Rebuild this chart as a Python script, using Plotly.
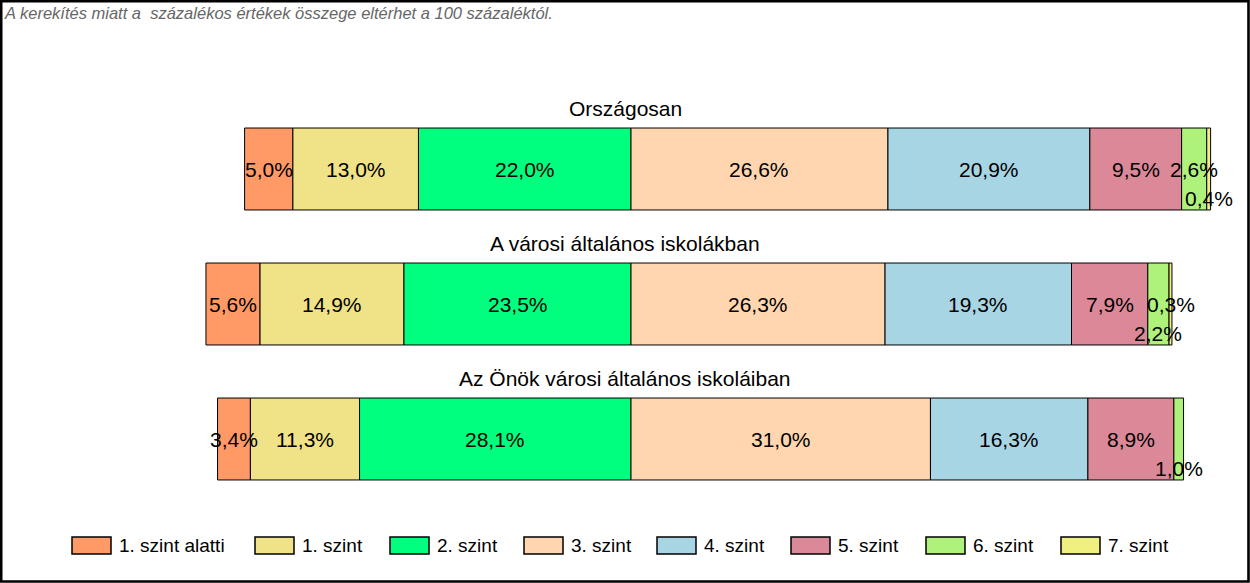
import plotly.graph_objects as go

# ---- data ----
groups = ["Országosan", "A városi általános iskolákban", "Az Önök városi általános iskoláiban"]
levels = ["1. szint alatti", "1. szint", "2. szint", "3. szint", "4. szint", "5. szint", "6. szint", "7. szint"]
orszagosan = [5.0, 13.0, 22.0, 26.6, 20.9, 9.5, 2.6, 0.4]
varosi = [5.6, 14.9, 23.5, 26.3, 19.3, 7.9, 2.2, 0.3]
onok = [3.4, 11.3, 28.1, 31.0, 16.3, 8.9, 1.0, 0.0]
note = "A kerekítés miatt a\u00a0 százalékos értékek összege eltérhet a 100 százaléktól."

# ---- style ----
colors = ["#FF9966", "#F0E286", "#00FF7F", "#FFD6B0", "#A8D5E4", "#DB8899", "#AEF27B", "#F0F080"]
# which labels are shifted below the bar centre (row, level)
low_labels = {(0, 7), (1, 6), (2, 6)}
legend_x_px = [72, 255, 390, 524, 657, 791, 926, 1061]
W, H = 1250, 583
FONT = "Liberation Sans, Arial, sans-serif"

rows = [orszagosan, varosi, onok]
# bars aligned at the boundary between "2. szint" and "3. szint"
starts = []
for vals in rows:
    s = -(vals[0] + vals[1] + vals[2])
    st = []
    for v in vals:
        st.append(s)
        s += v
    starts.append(st)

fig = go.Figure()
for j, lev in enumerate(levels):
    xs, bases, ys = [], [], []
    for i, vals in enumerate(rows):
        if vals[j] > 0:
            xs.append(vals[j])
            bases.append(starts[i][j])
            ys.append(i)
    fig.add_trace(go.Bar(
        x=xs, base=bases, y=ys, orientation="h", width=0.607,
        marker=dict(color=colors[j], line=dict(color="black", width=1)),
        name=lev, showlegend=False, hoverinfo="skip",
    ))

annotations = []
for i, vals in enumerate(rows):
    for j, v in enumerate(vals):
        if v <= 0:
            continue
        cx = starts[i][j] + v / 2
        cy = i + (0.215 if (i, j) in low_labels else 0)
        annotations.append(dict(
            x=cx, y=cy, xref="x", yref="y", text=f"{v:.1f}%".replace(".", ","),
            showarrow=False, font=dict(family=FONT, size=21, color="black"),
            xanchor="center", yanchor="middle",
        ))
    annotations.append(dict(
        x=0.5, y=i - 0.45, xref="paper", yref="y", text=groups[i],
        showarrow=False, font=dict(family=FONT, size=21, color="black"),
        xanchor="center", yanchor="middle",
    ))

annotations.append(dict(
    x=2 / W, y=1 - 2 / H, xref="paper", yref="paper", text=f"<i>{note}</i>",
    showarrow=False, font=dict(family=FONT, size=16.5, color="#666666"),
    xanchor="left", yanchor="top",
))

shapes = []
box_w, y0p, y1p = 39, 537, 554
for j, lev in enumerate(levels):
    x0 = legend_x_px[j]
    shapes.append(dict(
        type="rect", xref="paper", yref="paper",
        x0=x0 / W, x1=(x0 + box_w) / W, y0=1 - y1p / H, y1=1 - y0p / H,
        fillcolor=colors[j], line=dict(color="black", width=1.5),
    ))
    annotations.append(dict(
        x=(x0 + box_w + 6) / W, y=1 - 545.5 / H, xref="paper", yref="paper",
        text=lev, showarrow=False, font=dict(family=FONT, size=19, color="black"),
        xanchor="left", yanchor="middle",
    ))

shapes.append(dict(
    type="rect", xref="paper", yref="paper",
    x0=1.2 / W, x1=1 - 1.5 / W, y0=1.5 / H, y1=1 - 1.2 / H,
    line=dict(color="black", width=2.6), fillcolor="rgba(0,0,0,0)",
))

px_per = 9.66
fig.update_layout(
    width=W, height=H, margin=dict(l=0, r=0, t=0, b=0),
    paper_bgcolor="white", plot_bgcolor="white",
    barmode="overlay", hovermode=False,
    xaxis=dict(range=[-631 / px_per, (W - 631) / px_per], visible=False, fixedrange=True),
    yaxis=dict(range=[(H - 169) / 135, -169 / 135], visible=False, fixedrange=True),
    annotations=annotations, shapes=shapes,
)
fig.write_html(
    "out.html",
    config={"displayModeBar": False},
    post_script="document.body.style.margin='0';document.body.style.overflow='hidden';",
)
